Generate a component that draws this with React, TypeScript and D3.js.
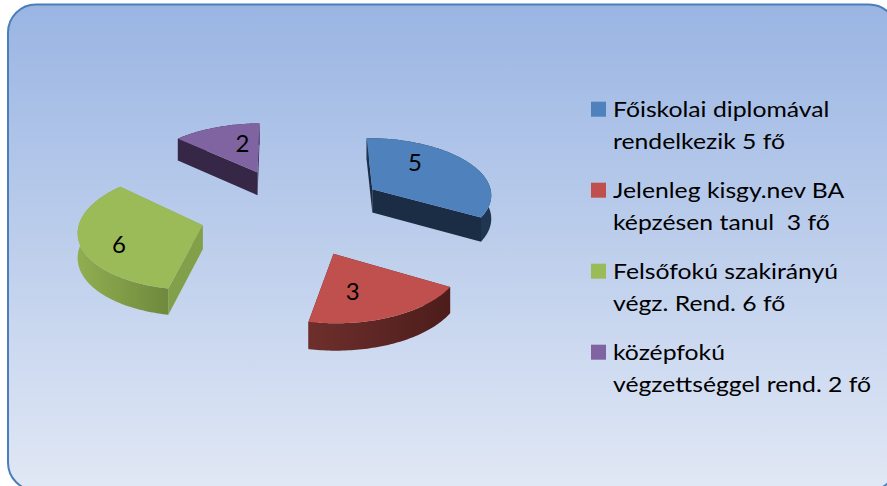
import React from 'react';
import * as d3 from 'd3';

const categories = ['Főiskolai diplomával rendelkezik 5 fő', 'Jelenleg kisgy.nev BA képzésen tanul  3 fő', 'Felsőfokú szakirányú végz. Rend. 6 fő', 'középfokú végzettséggel rend. 2 fő'];
const values = [5, 3, 6, 2];
const legendLines = [
  ['Főiskolai diplomával', 'rendelkezik 5 fő'],
  ['Jelenleg kisgy.nev BA', 'képzésen tanul  3 fő'],
  ['Felsőfokú szakirányú', 'végz. Rend. 6 fő'],
  ['középfokú', 'végzettséggel rend. 2 fő'],
];

const topColors = ['#4F81BD', '#C0504D', '#9BBB59', '#8064A2'];
const radialColors = ['#1A2D45', '#5A2422', '#82A04A', '#352745'];
const arcStops = [['#1F3550', '#1F3550'], ['#6E2F2C', '#4C1D1B'], ['#90AE51', '#6F893D'], ['#352745', '#352745']];

// tilted plane of the 3D pie
const H = [121.95372, 20.74731, 293.41763, -0.38329, -42.539, 211.09863, 0.00108, 0.07239];
const explode = 0.77;
const depth = 24;
// the old 3D renderer skews the slice boundaries a bit (degrees, one per boundary)
const edgeSkew = [0, 8, 12, -2].map(d => d * Math.PI / 180);
const labelRadius = [0.66, 0.57, 0.71, 0.62];
const labelFraction = [0.31, 0.65, 0.44, 0.71];

const arcs = d3.pie<number>().sort(null)(values);
const edges = arcs.map((a, i) => [a.startAngle + edgeSkew[i], a.endAngle + edgeSkew[(i + 1) % 4]]);

function project(x: number, y: number, lift = 0) {
  const w = H[6] * x + H[7] * y + 1;
  return [(H[0] * x + H[1] * y + H[2]) / w, (H[3] * x + H[4] * y + H[5]) / w + lift / w] as [number, number];
}

const line = d3.line();

export default function App() {
  return (
    <div style={{ position: 'absolute', left: 0, top: 0 }}>
      <svg width={887} height={486} style={{ display: 'block' }}>
        <defs>
          <linearGradient id="bg" x1="0" y1="0" x2="0" y2="1">
            <stop offset="0" stopColor="#9AB5E3" />
            <stop offset="1" stopColor="#E1E8F5" />
          </linearGradient>
        </defs>
        <rect x={8} y={4.5} width={889} height={486} rx={28} fill="url(#bg)" stroke="#4A7EBB" strokeWidth={2} />
        {edges.map(([s, t], i) => {
          const mid = (s + t) / 2;
          const cx = explode * Math.sin(mid);
          const cy = explode * Math.cos(mid);
          const on = (r: number, a: number, lift = 0) => project(cx + r * Math.sin(a), cy + r * Math.cos(a), lift);
          const ts = d3.range(s, t, 0.02).concat(t);
          const rim = ts.map(a => on(1, a));
          const rimLow = ts.map(a => on(1, a, depth));
          const apex = on(0, 0);
          const apexLow = on(0, 0, depth);
          const xs = d3.extent(rim, p => p[0]) as [number, number];
          const lp = on(labelRadius[i], s + (t - s) * labelFraction[i]);
          return (
            <g key={categories[i]}>
              <linearGradient id={`wall${i}`} gradientUnits="userSpaceOnUse" x1={xs[0]} x2={xs[1]} y1={0} y2={0}>
                <stop offset="0" stopColor={arcStops[i][0]} />
                <stop offset="1" stopColor={arcStops[i][1]} />
              </linearGradient>
              <path d={line([apex, rim[0], rimLow[0], apexLow])! + 'Z'} fill={radialColors[i]} />
              <path d={line([apex, rim[rim.length - 1], rimLow[rim.length - 1], apexLow])! + 'Z'} fill={radialColors[i]} />
              <path d={line([...rim, ...rimLow.slice().reverse()])! + 'Z'} fill={`url(#wall${i})`} />
              <path d={line([apex, ...rim])! + 'Z'} fill={topColors[i]} />
              <text x={lp[0]} y={lp[1]} textAnchor="middle" dominantBaseline="central" fontFamily="Lato" fontSize={24} fill="#000">{values[i]}</text>
            </g>
          );
        })}
        {legendLines.map((ls, i) => (
          <g key={categories[i]} transform={`translate(591,${101.7 + i * 81})`}>
            <rect width={15} height={15} fill={topColors[i]} />
            {ls.map((l, k) => (
              <text key={k} transform={`translate(22,${15.6 + k * 32}) scale(1.125,1)`} fontFamily="Lato" fontSize={22} fill="#000" style={{ whiteSpace: 'pre' }}>{l}</text>
            ))}
          </g>
        ))}
      </svg>
    </div>
  );
}
